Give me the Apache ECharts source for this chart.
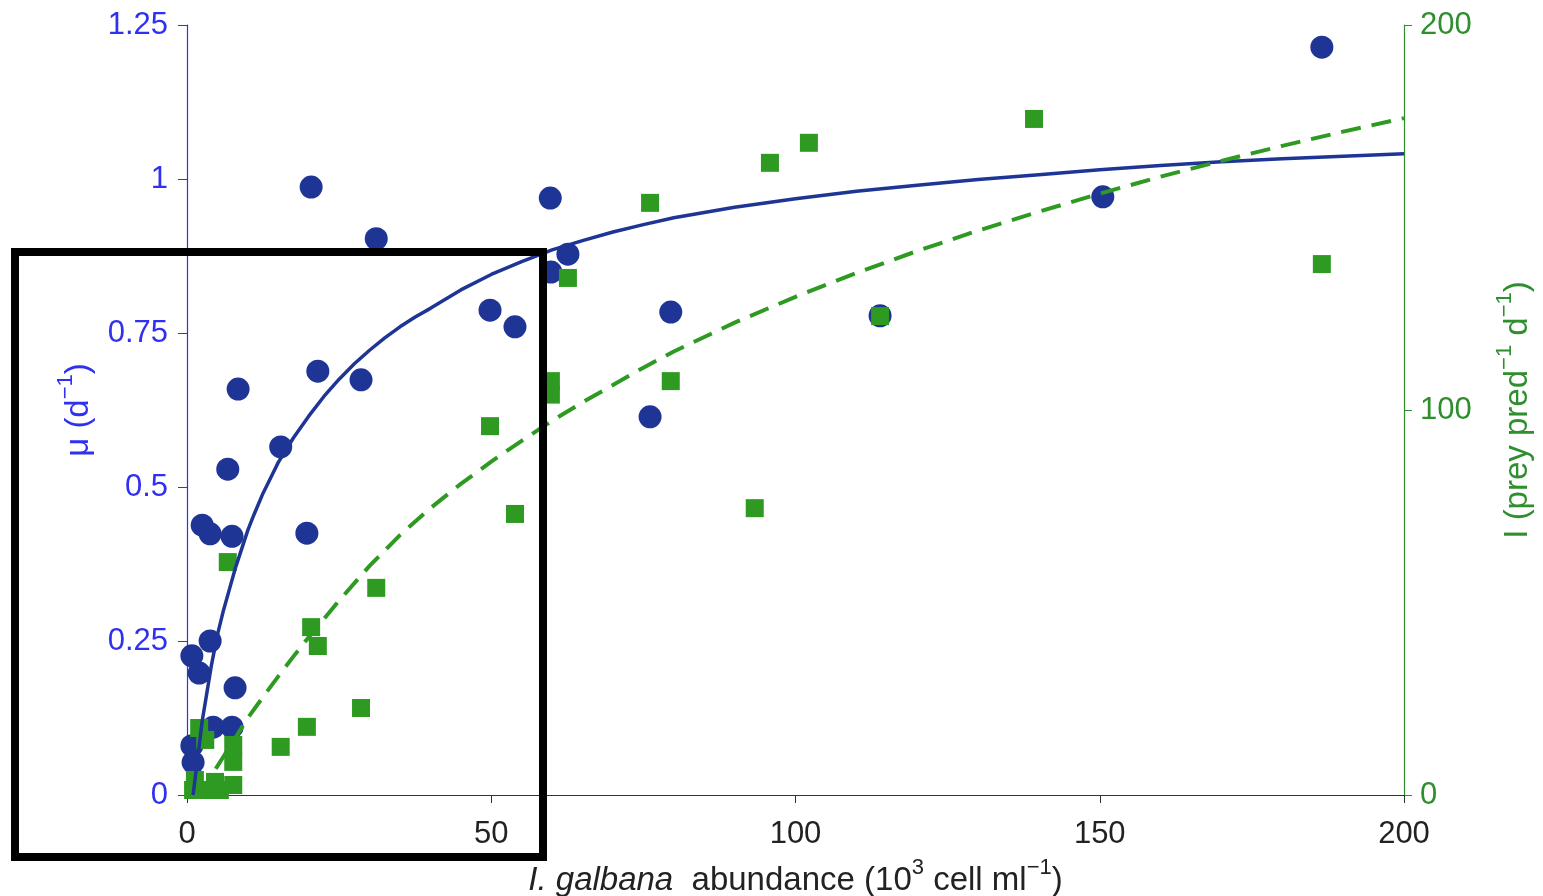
<!DOCTYPE html>
<html><head><meta charset="utf-8">
<script src="https://cdn.jsdelivr.net/npm/echarts@6/dist/echarts.min.js"></script>
<style>html,body{margin:0;padding:0;background:#fff}#c{width:1543px;height:896px}</style>
</head><body><div id="c"></div>
<script>
// Growth rate (mu, d^-1) observations: [abundance, mu]
const muPoints = [
  [20.4,0.987],[31.1,0.903],[59.7,0.969],[59.8,0.849],[62.6,0.878],[49.8,0.787],
  [53.9,0.760],[79.5,0.784],[76.1,0.614],[113.9,0.778],[150.5,0.971],[186.5,1.214],
  [8.4,0.659],[21.5,0.688],[28.6,0.674],[15.4,0.565],[6.7,0.529],[19.7,0.425],
  [2.5,0.438],[3.8,0.424],[7.4,0.420],[3.8,0.250],[0.8,0.226],[2.0,0.198],
  [7.9,0.174],[4.3,0.110],[7.4,0.110],[0.8,0.080],[1.0,0.053]
];
// Ingestion rate (I, prey pred^-1 d^-1) observations: [abundance, I]
const ingPoints = [
  [139.2,175.6],[102.2,169.4],[95.8,164.2],[76.1,153.8],[186.5,137.9],[62.6,134.3],
  [113.9,124.4],[59.8,107.5],[59.8,104.0],[79.5,107.5],[49.8,95.8],[93.3,74.5],
  [53.9,73.0],[6.7,60.5],[31.1,53.8],[20.4,43.6],[21.5,38.7],[28.6,22.6],
  [19.7,17.7],[15.4,12.5],[2.0,17.4],[3.0,14.3],[7.6,13.0],[7.6,8.6],
  [1.0,1.3],[3.0,1.3],[5.4,1.3],[7.6,2.6],[1.3,3.9],[4.6,3.4]
];
// Fitted curves
const muFitX = [1.0,1.5,2,2.5,3,4,5,6,7,8,9,10,11,12.5,14,15,17.5,20,22.5,25,27.5,30,32.5,35,37.5,40,45,50,55,60,65,70,75,80,90,100,110,120,130,140,150,160,170,180,190,200];
const muFitY = [0,0.04,0.08,0.12,0.15,0.21,0.26,0.30,0.335,0.37,0.40,0.43,0.455,0.49,0.52,0.54,0.58,0.615,0.647,0.675,0.70,0.722,0.742,0.76,0.776,0.79,0.82,0.845,0.866,0.885,0.90,0.914,0.926,0.937,0.954,0.968,0.98,0.99,0.999,1.007,1.015,1.022,1.028,1.033,1.037,1.041];
const ingFitX = [2,3,4,5,6,8,10,12.5,15,17.5,20,25,30,35,40,45,50,55,60,65,70,75,80,90,100,110,120,130,140,150,160,170,180,190,200];
const ingFitY = [0,2.5,5,7.5,10,15,20,25.5,30.8,36,41,50.5,59.5,67.5,74.5,80.8,86.6,92,97.2,102,106.5,111,115.2,122.7,129.4,135.6,141.3,146.6,151.5,156.2,160.6,164.7,168.6,172.3,175.8];
const xTicks = [0,50,100,150,200];
const muTicks = [0,0.25,0.5,0.75,1,1.25];
const ingTicks = [0,100,200];

const BLUE_AX = '#3030f0', GREEN_AX = '#2f8f2f';
const BLUE = '#1f3596', GREEN = '#2e9a22';
const FONT = '"Liberation Sans", Arial, sans-serif';
const TICK_FS = 31, TITLE_FS = 33, SUP_FS = 22;

function richFor(color) {
  return {
    i: {fontSize: TITLE_FS, fontStyle: 'italic', fontFamily: FONT, color: color, verticalAlign: 'bottom', lineHeight: 40},
    n: {fontSize: TITLE_FS, fontFamily: FONT, color: color, verticalAlign: 'bottom', lineHeight: 40},
    s: {fontSize: SUP_FS, fontFamily: FONT, color: color, verticalAlign: 'top', lineHeight: 40}
  };
}

const chart = echarts.init(document.getElementById('c'));
chart.setOption({
  animation: false,
  backgroundColor: '#fff',
  grid: {left: 187, right: 139, top: 25, bottom: 101, containLabel: false, outerBoundsMode: 'none'},
  xAxis: {
    type: 'value', min: 0, max: 200, interval: 50,
    axisLine: {show: true, lineStyle: {color: '#333', width: 1.2}},
    axisTick: {show: true, length: 8, lineStyle: {color: '#333'}},
    splitLine: {show: false},
    axisLabel: {color: '#222', fontSize: TICK_FS, fontFamily: FONT, margin: 24,
      formatter: v => xTicks.includes(v) ? String(v) : ''},
    name: '{i|I. galbana}{n|  abundance (10}{s|3}{n| cell ml}{s|−1}{n|)}',
    nameLocation: 'middle', nameGap: 62,
    nameTextStyle: {fontFamily: FONT, color: '#222', rich: richFor('#222')}
  },
  yAxis: [{
    type: 'value', min: 0, max: 1.25, interval: 0.25, position: 'left',
    axisLine: {show: true, lineStyle: {color: BLUE_AX, width: 1.2}},
    axisTick: {show: true, length: 9, lineStyle: {color: BLUE_AX}},
    splitLine: {show: false},
    axisLabel: {color: BLUE_AX, fontSize: TICK_FS, fontFamily: FONT, margin: 19,
      formatter: v => { const t = muTicks.find(m => Math.abs(m - v) < 1e-9); return t === undefined ? '' : String(t); }},
    name: '{n|μ (d}{s|−1}{n|)}',
    nameLocation: 'middle', nameGap: 92, nameRotate: 90,
    nameTextStyle: {fontFamily: FONT, color: BLUE_AX, rich: richFor(BLUE_AX)}
  }, {
    type: 'value', min: 0, max: 200, interval: 100, position: 'right',
    axisLine: {show: true, lineStyle: {color: GREEN_AX, width: 1.2}},
    axisTick: {show: true, length: 8, lineStyle: {color: GREEN_AX}},
    splitLine: {show: false},
    axisLabel: {color: GREEN_AX, fontSize: TICK_FS, fontFamily: FONT, margin: 16,
      formatter: v => ingTicks.includes(v) ? String(v) : ''},
    name: '{n|I (prey pred}{s|−1}{n| d}{s|−1}{n|)}',
    nameLocation: 'middle', nameGap: 90, nameRotate: 90,
    nameTextStyle: {fontFamily: FONT, color: GREEN_AX, rich: richFor(GREEN_AX)}
  }],
  series: [
    {type: 'scatter', yAxisIndex: 0, data: muPoints, symbol: 'circle', symbolSize: 23,
      itemStyle: {color: BLUE, opacity: 1}, z: 2, silent: true},
    {type: 'scatter', yAxisIndex: 1, data: ingPoints, symbol: 'rect', symbolSize: 18,
      itemStyle: {color: GREEN, opacity: 1}, z: 3, silent: true},
    {type: 'line', yAxisIndex: 0, data: muFitX.map((x, i) => [x, muFitY[i]]), smooth: false,
      showSymbol: false, lineStyle: {color: BLUE, width: 3.5, join: 'round'}, z: 4, silent: true},
    {type: 'line', yAxisIndex: 1, data: ingFitX.map((x, i) => [x, ingFitY[i]]), smooth: false,
      showSymbol: false, lineStyle: {color: GREEN, width: 4, type: [20, 11], join: 'round'}, z: 4, silent: true}
  ],
  graphic: [{
    type: 'rect', z: 100, silent: true,
    shape: {x: 15, y: 252, width: 528, height: 605},
    style: {fill: 'none', stroke: '#000', lineWidth: 8}
  }]
});
</script></body></html>
